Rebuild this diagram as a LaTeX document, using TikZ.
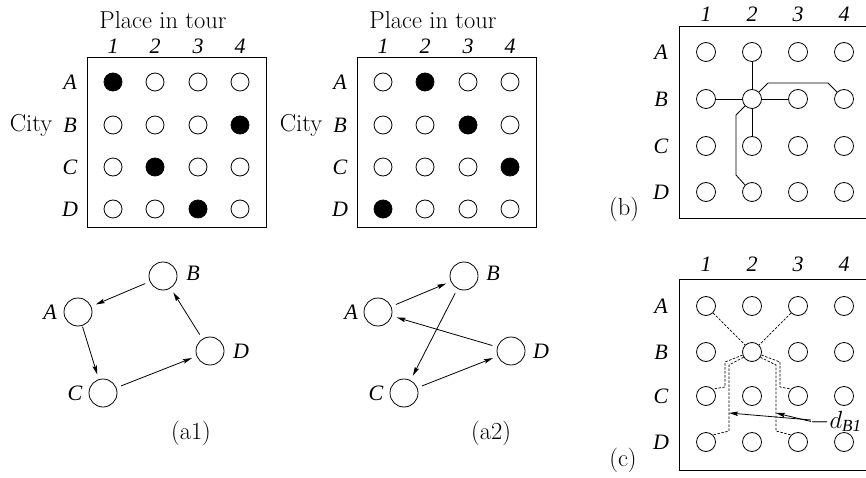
\documentclass[tikz,border=0pt]{standalone}
\usepackage{fontspec}
\newfontfamily\tms{Liberation Serif}
\usetikzlibrary{arrows.meta}
\begin{document}
\begin{tikzpicture}[x=1pt,y=-1pt,
  cell/.style={circle,draw,line width=0.8pt,minimum size=18pt,inner sep=0pt},
  gnode/.style={circle,draw,line width=0.8pt,minimum size=28pt,inner sep=0pt},
  lbl/.style={font=\fontsize{22}{24}\selectfont\tms\itshape,inner sep=0pt},
  txt/.style={font=\fontsize{24.5}{28}\selectfont,inner sep=0pt},
  frame/.style={draw,line width=0.8pt},
  tip/.style={-{Stealth[length=9pt,width=4.5pt,inset=1.5pt]}},
  edge/.style={line width=0.8pt,tip,shorten >=5pt,shorten <=5pt},
  wire/.style={line width=0.8pt},
  dwire/.style={line width=0.7pt,dash pattern=on 2.5pt off 1.5pt},
  m1A1/.style={fill=black}, m1B4/.style={fill=black}, m1C2/.style={fill=black}, m1D3/.style={fill=black},
  m2A2/.style={fill=black}, m2B3/.style={fill=black}, m2C4/.style={fill=black}, m2D1/.style={fill=black},
]
\useasboundingbox (0,0) rectangle (866,478);

% ---------- matrices (a1) and (a2)
\foreach \m/\dx in {1/0,2/270} {
  \draw[frame] (87+\dx,57) rectangle (266+\dx,227);
  \node[txt] at (163+\dx,20) {Place in tour};
  \node[txt] at (31+\dx,125) {City};
  \foreach \c/\x in {1/113,2/155,3/198,4/240}
    \node[lbl] at (\x+\dx,46) {\c};
  \foreach \L/\y in {A/82,B/125,C/167,D/209} {
    \node[lbl] at (70+\dx,\y) {\L};
    \foreach \c/\x in {1/113,2/155,3/198,4/240}
      \node[cell,m\m\L\c/.try] (m\m\L\c) at (\x+\dx,\y) {};
  }
}

% ---------- graph (a1)
\node[gnode] (gA) at (78,312) {};
\node[gnode] (gB) at (163,276) {};
\node[gnode] (gC) at (103,393) {};
\node[gnode] (gD) at (210,351) {};
\node[lbl] at (50,312) {A};
\node[lbl] at (193,273) {B};
\node[lbl] at (75,393) {C};
\node[lbl] at (241,351) {D};
\draw[edge] (gB) -- (gA);
\draw[edge,shorten <=1pt] (gA) -- (gC);
\draw[edge] (gC) -- (gD);
\draw[edge] (gD) -- (gB);
\node[txt] at (191,433) {(a1)};

% ---------- graph (a2)
\node[gnode] (hA) at (378,312) {};
\node[gnode] (hB) at (464,276) {};
\node[gnode] (hC) at (404,393) {};
\node[gnode] (hD) at (511,351) {};
\node[lbl] at (351,312) {A};
\node[lbl] at (493,273) {B};
\node[lbl] at (376,393) {C};
\node[lbl] at (541,351) {D};
\draw[edge] (hA) -- (hB);
\draw[edge] (hB) -- (hC);
\draw[edge] (hC) -- (hD);
\draw[edge] (hD) -- (hA);
\node[txt] at (491,433) {(a2)};

% ---------- panel (b)
\draw[frame] (900,26) -- (679,26) -- (679,218) -- (900,218);
\foreach \c/\x in {1/706,2/752,3/798,4/844}
  \node[lbl] at (\x,14) {\c};
\foreach \L/\y in {A/52,B/99,C/146,D/192} {
  \node[lbl] at (661,\y) {\L};
  \foreach \c/\x in {1/706,2/752,3/798,4/844}
    \node[cell,minimum size=19pt] (b\L\c) at (\x,\y) {};
}
\node[txt] at (624,209) {(b)};
\draw[wire] (bB1) -- (bB2);
\draw[wire] (bB2) -- (bB3);
\draw[wire] (bA2) -- (bB2);
\draw[wire] (bB2) -- (bC2);
\draw[wire] (bB2.45) -- (768,83) -- (828,83) -- (bB4.135);
\draw[wire] (bB2.225) -- (736,115) -- (736,175) -- (bD2.135);

% ---------- panel (c)
\draw[frame] (900,279) -- (679,279) -- (679,470) -- (900,470);
\foreach \c/\x in {1/706,2/752,3/798,4/844}
  \node[lbl] at (\x,264) {\c};
\foreach \L/\y in {A/306,B/352,C/396,D/442} {
  \node[lbl] at (661,\y) {\L};
  \foreach \c/\x in {1/706,2/752,3/798,4/844}
    \node[cell,minimum size=19pt] (c\L\c) at (\x,\y) {};
}
\node[txt] at (623,460) {(c)};
\draw[dwire] (cA1.-45) -- (cB2.135);
\draw[dwire] (cA3.225) -- (cB2.45);
\draw[dwire] (cB2.198) -- (725,362) -- (725,387) -- (cC1.45);
\draw[dwire] (cB2.212) -- (729,365) -- (729,431) -- (cD1.45);
\draw[dwire] (cB2.-18) -- (780,362) -- (780,387) -- (cC3.135);
\draw[dwire] (cB2.-32) -- (776,365) -- (776,431) -- (cD3.135);
\coordinate (dj) at (811,420);
\coordinate (t1) at (729,413);
\coordinate (t2) at (776,413);
\node[anchor=base west,inner sep=0pt,font=\fontsize{24}{28}\selectfont] (dl) at (810,428)
  {$-d$\raisebox{-0.3ex}{\fontsize{17}{19}\selectfont\tms\itshape B1}};
\draw[wire,tip] (dj) -- (t1);
\draw[wire,tip] ([yshift=-1.5pt]dj) -- (t2);
\end{tikzpicture}
\end{document}
